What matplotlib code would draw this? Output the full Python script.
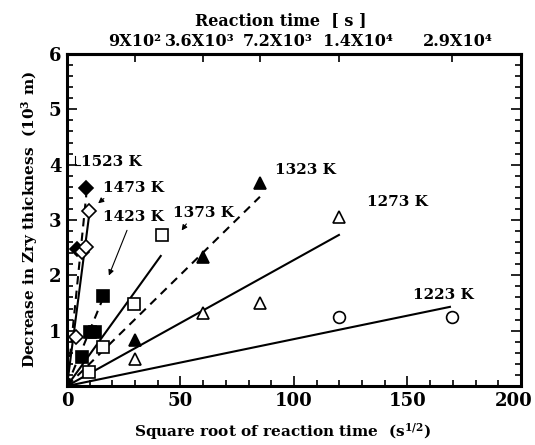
import numpy as np
import matplotlib
matplotlib.use('Agg')
import matplotlib.pyplot as plt
from matplotlib.ticker import MultipleLocator

plt.rcParams['font.family'] = ['DejaVu Serif']
plt.rcParams['font.weight'] = 'bold'
plt.rcParams['axes.labelweight'] = 'bold'
plt.rcParams['mathtext.fontset'] = 'dejavuserif'
plt.rcParams['mathtext.default'] = 'bf'

# 温度别测定点 (x = 反应时间平方根, y = 减薄量)
temps = ['1523 K', '1473 K', '1423 K', '1373 K', '1323 K', '1273 K', '1223 K']
markers = ['D', 'D', 's', 's', '^', '^', 'o']
marker_size = [7, 7, 8, 8, 9, 9, 8.5]
filled = [True, False, True, False, True, False, False]
x_pts = [
    [4.5, 8.5],
    [4.0, 6.5, 8.5, 9.8],
    [6.5, 10.0, 12.3, 16.0],
    [9.8, 16.0, 29.5, 42.0],
    [30.0, 60.0, 84.9],
    [30.0, 60.0, 84.9, 120.0],
    [120.0, 169.7],
]
y_pts = [
    [2.47, 3.57],
    [0.88, 2.42, 2.51, 3.16],
    [0.53, 0.98, 0.98, 1.63],
    [0.26, 0.71, 1.48, 2.73],
    [0.83, 2.34, 3.67],
    [0.49, 1.32, 1.50, 3.06],
    [1.24, 1.25],
]
# 拟合直线 (过原点) 的终点
line_x_end = [8.5, 9.8, 16.0, 41.3, 85.0, 119.8, 168.7]
line_y_end = [3.45, 3.10, 1.60, 2.35, 3.42, 2.73, 1.43]
line_dash = [True, False, True, False, True, False, False]

# 下轴刻度
x_ticks = [0, 50, 100, 150, 200]

# 上轴: 反应时间
top_seconds = [900, 3600, 7200, 14400, 28800]
top_labels = ['9X10²', '3.6X10³', '7.2X10³', '1.4X10⁴', '2.9X10⁴']
top_label_x = [30, 58.6, 93, 128, 172]

fig = plt.figure(figsize=(5.35, 4.45), dpi=100)
ax = fig.add_axes([0.1252, 0.1326, 0.8486, 0.746])

for i in range(len(temps)):
    ls = (0, (4, 3)) if line_dash[i] else '-'
    ax.plot([0, line_x_end[i]], [0, line_y_end[i]], color='black', lw=1.5, ls=ls, zorder=2)
for i in range(len(temps)):
    ax.plot(x_pts[i], y_pts[i], ls='none', marker=markers[i], ms=marker_size[i],
            mfc='black' if filled[i] else 'white', mec='black', mew=1.2, zorder=3)

ax.set_xlim(0, 200)
ax.set_ylim(0, 6)
ax.set_xticks(x_ticks)
# 最右的 "200" 单独画, 稍往左移, 避免超出图边
ax.set_xticklabels([str(t) for t in x_ticks[:-1]] + [''])
ax.annotate(str(x_ticks[-1]), xy=(x_ticks[-1], 0), xycoords=('data', 'axes fraction'),
            xytext=(-5, -4), textcoords='offset points', ha='center', va='top',
            fontsize=13, fontweight='bold')
ax.xaxis.set_minor_locator(MultipleLocator(10))
ax.yaxis.set_minor_locator(MultipleLocator(0.2))
ax.set_yticks([1, 2, 3, 4, 5, 6])
ax.tick_params(which='both', direction='in', top=False, right=True, width=1.2)
ax.tick_params(which='major', length=7, labelsize=13, pad=4)
ax.tick_params(which='minor', length=4)
for s in ax.spines.values():
    s.set_linewidth(2.2)

ax.set_xlabel('Square root of reaction time  (s$^{1/2}$)', fontsize=11, labelpad=8, x=0.474)
ax.set_ylabel('Decrease in Zry thickness  (10$^{3}$ m)', fontsize=11, labelpad=6)

# 上轴刻度 (标签位置按原图)
top = ax.secondary_xaxis('top')
top.set_xticks(np.sqrt(top_seconds))
top.set_xticklabels([])
top.tick_params(direction='in', length=6, width=1.2)
top.spines['top'].set_linewidth(2.2)
for lx, lab in zip(top_label_x, top_labels):
    ax.text(lx, 1.012, lab, transform=ax.get_xaxis_transform(), ha='center', va='bottom',
            fontsize=11.5, fontweight='bold')
ax.text(94.3, 1.075, 'Reaction time  [ s ]', transform=ax.get_xaxis_transform(),
        ha='center', va='bottom', fontsize=11.5, fontweight='bold')

# 温度标注
kw = dict(fontsize=11, fontweight='bold', ha='left', va='center')
arrow = dict(arrowstyle='-|>', color='black', lw=0.8, mutation_scale=8)
ax.text(6.0, 4.05, '1523 K', **kw)
ax.plot([3.7, 3.7, 5.7], [4.16, 4.0, 4.0], color='black', lw=0.8)
ax.text(16, 3.58, '1473 K', **kw)
ax.annotate('', xy=(12.8, 3.27), xytext=(17.2, 3.42), arrowprops=arrow)
ax.text(15.9, 3.06, '1423 K', **kw)
ax.annotate('', xy=(18, 1.95), xytext=(26.9, 2.86), arrowprops=arrow)
ax.text(46.7, 3.13, '1373 K', **kw)
ax.annotate('', xy=(49.8, 2.77), xytext=(53.3, 2.97), arrowprops=arrow)
ax.text(91.6, 3.91, '1323 K', **kw)
ax.text(132, 3.33, '1273 K', **kw)
ax.text(152.6, 1.65, '1223 K', **kw)

fig.savefig('out.png', dpi=100)
